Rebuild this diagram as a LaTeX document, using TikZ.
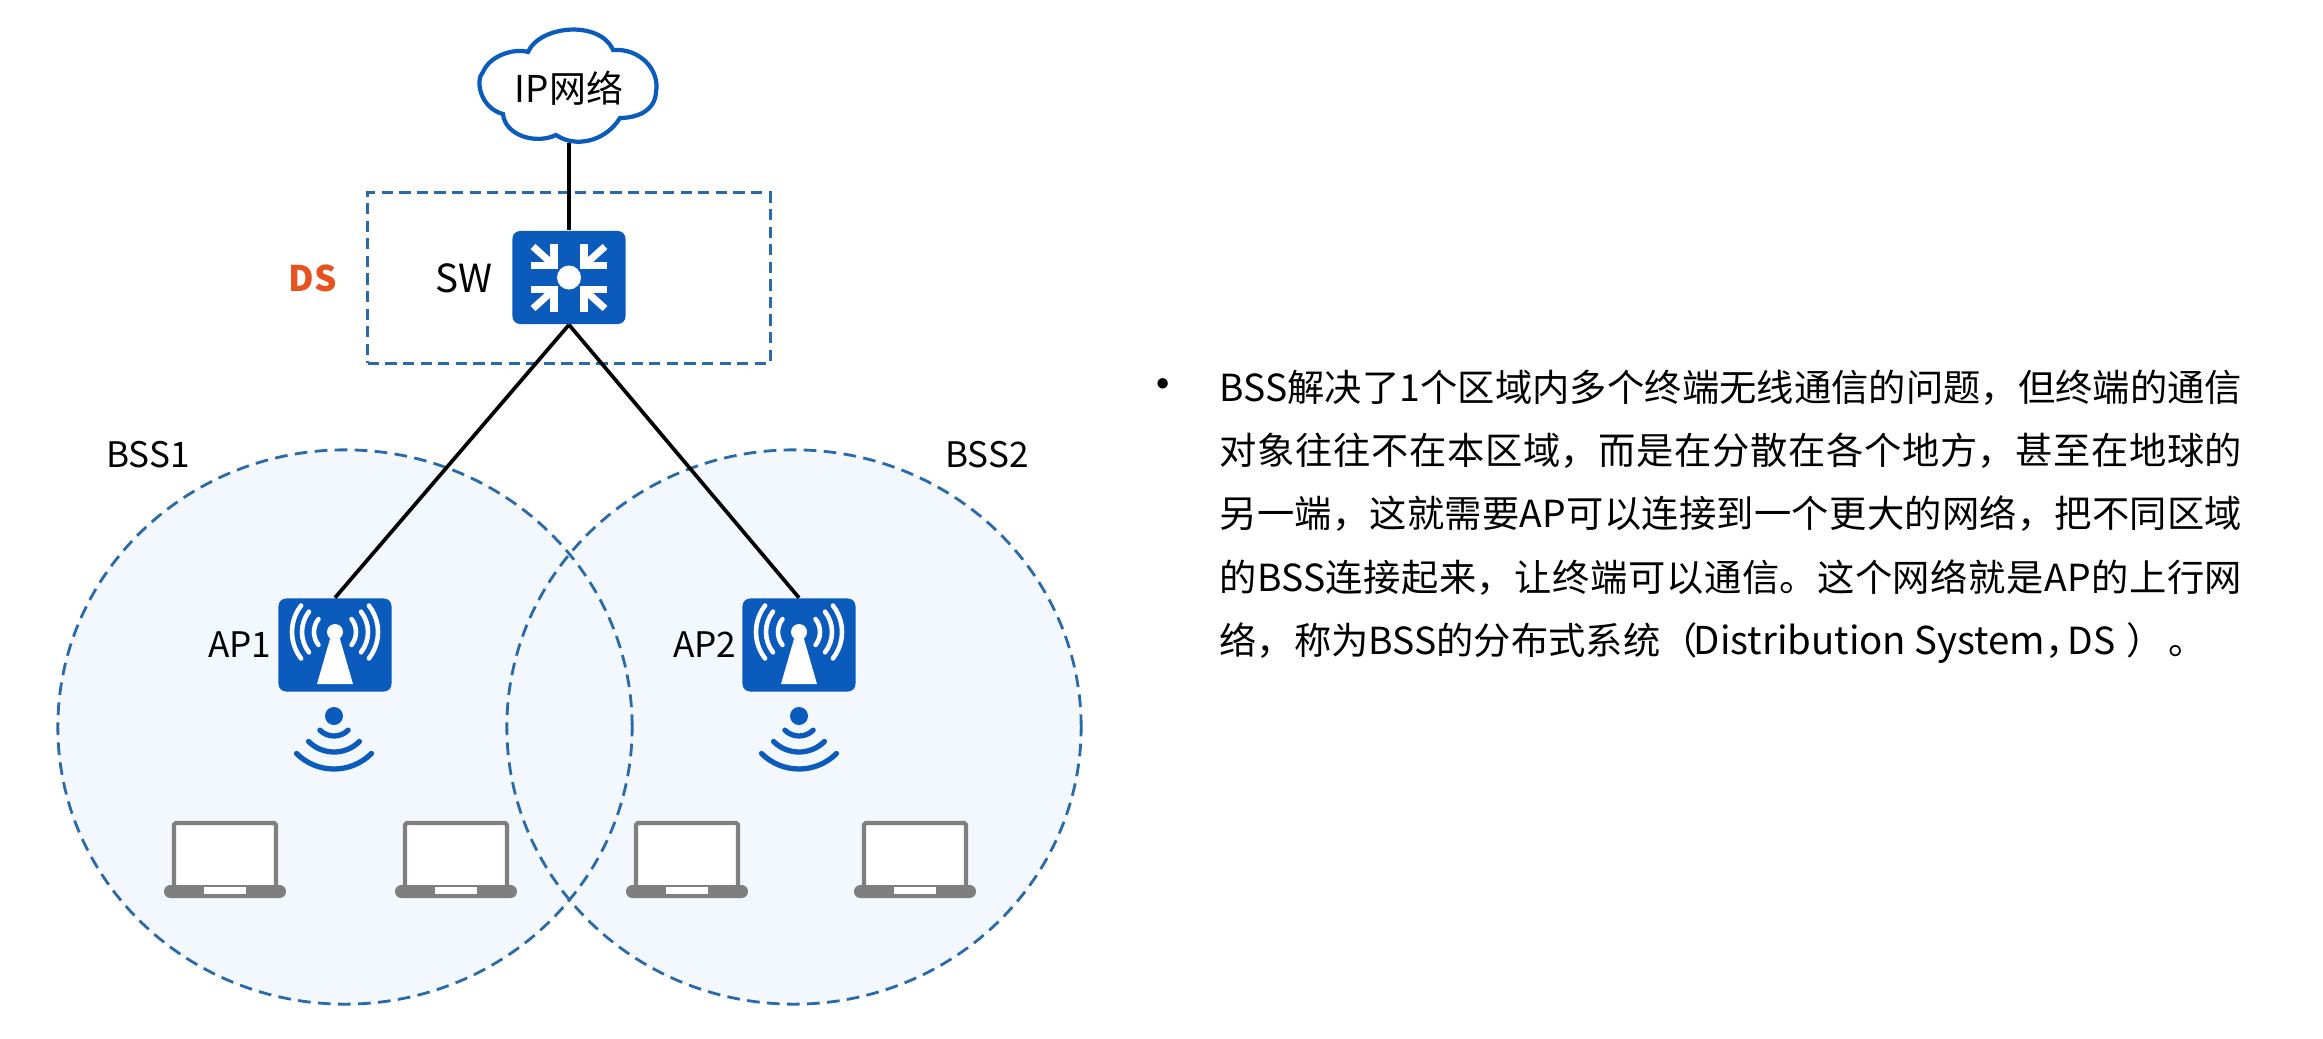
\documentclass[tikz,border=0pt]{standalone}
\usepackage{fontspec}
\setmainfont{Noto Sans CJK SC}
\usetikzlibrary{calc,positioning}
\definecolor{iconblue}{HTML}{0B5BBD}
\definecolor{dashblue}{HTML}{2A6AA8}
\definecolor{bssfill}{HTML}{F3F8FF}
\definecolor{laptopgray}{HTML}{7F7F7F}
\definecolor{dsorange}{HTML}{E8521E}
\tikzset{
  x=0.01cm, y=-0.01cm,
  link/.style = {
    line width=1.05pt, black
  },
  bsszone/.style = {
    draw=dashblue, line width=0.8pt,
    dash pattern=on 3.6pt off 2.1pt
  },
  dsbox/.style = {
    draw=dashblue, line width=0.85pt, dash pattern=on 3.2pt off 1.8pt,
    minimum width=4.02cm, minimum height=1.70cm
  },
  device/.style = {
    fill=iconblue, rounded corners=2.2pt,
    minimum width=1.13cm, minimum height=0.93cm, inner sep=0pt
  },
  tag/.style = {
    font=\fontsize{10pt}{12pt}\selectfont, inner sep=0pt
  },
  wave/.style = {
    line width=1.5pt, line cap=round
  },
  whitewave/.style = {
    white, line width=1.3pt, line cap=round
  }
}
% white arrows of the switch
\newcommand{\swicon}[1]{
  \fill[white] (#1) circle (12);
  \foreach \sx/\sy in {1/1,-1/1,1/-1,-1/-1} {
    \begin{scope}[shift={(#1)}, xscale=\sx, yscale=\sy]
      \draw[white, line width=2pt] (15,-34) -- (15,-12) -- (38,-12);
      \draw[white, line width=2pt] (15,-12) -- (36,-31);
    \end{scope}
  }
}
% antenna inside an AP box
\newcommand{\apicon}[1]{
  \begin{scope}[shift={(#1)}]
    \fill[white] (0,-13) circle (8);
    \fill[white] (-18,39) -- (-3,-13) -- (3,-13) -- (18,39) -- cycle;
    \foreach \r in {21,33,43} {
      \draw[whitewave] ($(0,-13)+(218:\r)$) arc[start angle=142, end angle=218, radius=\r*0.01cm];
      \draw[whitewave] ($(0,-13)+(-38:\r)$) arc[start angle=38, end angle=-38, radius=\r*0.01cm];
    }
  \end{scope}
}
% signal below an AP box
\newcommand{\signal}[1]{
  \fill[iconblue] (#1) circle (9);
  \foreach \r in {20,36,53} {
    \draw[wave, iconblue] ($(#1)+(-\r*0.7071,\r*0.7071)$) arc[start angle=225, end angle=315, radius=\r*0.01cm];
  }
}
\newcommand{\laptop}[1]{
  \begin{scope}[shift={(#1)}]
    \draw[laptopgray, fill=white, line width=1.2pt, rounded corners=0.5pt] (-51,62) -- (-51,0) -- (51,0) -- (51,62);
    \fill[laptopgray, rounded corners=1.8pt] (-61,62) rectangle (61,75);
    \fill[white] (-21,64) rectangle (21,71);
  \end{scope}
}

\begin{document}
\begin{tikzpicture}
    \useasboundingbox (0,0) rectangle (2323,1039);
    \fill[white] (0,0) rectangle (2323,1039);

    \fill[bssfill] (345,727) ellipse[x radius=2.87cm, y radius=2.77cm];
    \fill[bssfill] (794,727) ellipse[x radius=2.87cm, y radius=2.77cm];
    \draw[bsszone] (345,727) ellipse[x radius=2.87cm, y radius=2.77cm];
    \draw[bsszone] (794,727) ellipse[x radius=2.87cm, y radius=2.77cm];

    \node[dsbox] (dsarea) at (569,278) {};
    \node[tag, text=dsorange, font=\fontsize{10pt}{12pt}\selectfont\bfseries] (dslabel) at (313,278) {DS};

    \node[inner sep=0pt, minimum width=1.78cm, minimum height=1.13cm] (ipnet) at (569,86) {};
    \draw[iconblue, fill=white, line width=1.2pt]
      (528,52) .. controls (540,25) and (600,20) .. (613,50)
      .. controls (640,48) and (660,70) .. (656,92)
      .. controls (655,112) and (635,118) .. (620,118)
      .. controls (605,142) and (575,148) .. (556,135)
      .. controls (535,145) and (505,135) .. (503,114)
      .. controls (480,108) and (475,80) .. (483,72)
      .. controls (490,55) and (515,48) .. (528,52) -- cycle;
    \node[tag, font=\fontsize{10.5pt}{12pt}\selectfont] (iplabel) at (569,88) {IP网络};

    \node[device] (sw) at (569,277.5) {};
    \node[device] (ap1) at (335,645) {};
    \node[device] (ap2) at (799,645) {};
    \swicon{sw}
    \apicon{ap1}
    \apicon{ap2}
    \node[tag, anchor=east, font=\fontsize{11pt}{12pt}\selectfont] (swlabel) at (493,278) {SW};
    \node[tag, anchor=east] (ap1label) at (272,645) {AP1};
    \node[tag, anchor=east] (ap2label) at (737,645) {AP2};
    \node[tag] (bss1label) at (148,455) {BSS1};
    \node[tag] (bss2label) at (987,455) {BSS2};

    \draw[link] (ipnet.south) -- (sw.north);
    \draw[link] (sw.south) -- (ap1.north);
    \draw[link] (sw.south) -- (ap2.north);

    \signal{334,716}
    \signal{799,716}
    \laptop{225,823}
    \laptop{456,823}
    \laptop{687,823}
    \laptop{915,823}

    \node[tag, font=\fontsize{14pt}{14pt}\selectfont] (bullet) at (1163,391) {•};
    \XeTeXlinebreaklocale "zh"
    \XeTeXlinebreakskip=0pt plus 1pt
    \node[anchor=north west, inner sep=0pt, text width=10.22cm, align=justify,
          font=\fontsize{10.6pt}{18pt}\selectfont] (bodytext) at (1219,369) {%
      BSS解决了1个区域内多个终端无线通信的问题，但终端的通信\linebreak
      对象往往不在本区域，而是在分散在各个地方，甚至在地球的\linebreak
      另一端，这就需要AP可以连接到一个更大的网络，把不同区域\linebreak
      的BSS连接起来，让终端可以通信。这个网络就是AP的上行网\linebreak
      \mbox{络，称为BSS的分布式系统（\hspace{-0.1em}{\fontsize{10.9pt}{18pt}\selectfont Distribution System}，\hspace{-0.4em}DS\hspace{0.3em}）\hspace{0.12em}。}};
\end{tikzpicture}
\end{document}
